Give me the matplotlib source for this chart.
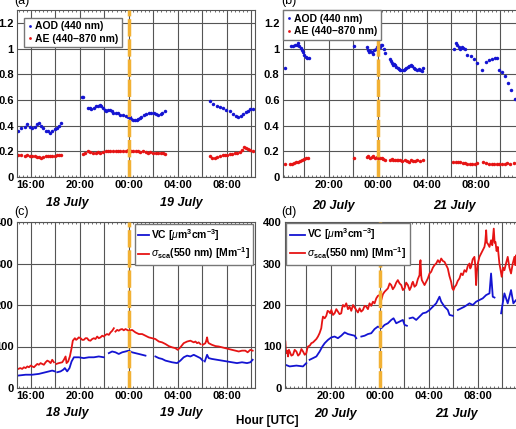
import numpy as np
import matplotlib
matplotlib.use("Agg")
import matplotlib.pyplot as plt
from matplotlib.ticker import FixedLocator, MultipleLocator, FuncFormatter

plt.rcParams['font.family'] = ['Liberation Sans', 'DejaVu Sans']
plt.rcParams['mathtext.fontset'] = 'custom'
plt.rcParams['mathtext.rm'] = 'Liberation Sans:bold'
plt.rcParams['mathtext.it'] = 'Liberation Sans:italic'
plt.rcParams['mathtext.bf'] = 'Liberation Sans:bold'

# tid i timer relativt til midnatt (00:00) mellom de to dagene
# (a) AOD / AE, 18-19 juli
a_aod_t = [-9.03, -8.76, -8.49, -8.30, -8.08, -7.86, -7.67, -7.48, -7.32, -7.16, -6.99, -6.78, -6.59, -6.45,
           -6.23, -6.04, -5.85, -5.69, -5.55,
           -3.86, -3.73,
           -3.32, -3.18, -3.05, -2.86, -2.64, -2.50, -2.37, -2.23, -2.10, -1.96, -1.82, -1.69, -1.55, -1.41,
           -1.28, -1.06, -0.87, -0.68, -0.46, -0.24, -0.05, 0.08, 0.22, 0.35, 0.49, 0.63, 0.76, 0.90, 1.03,
           1.22, 1.44, 1.66, 1.85, 2.04, 2.26, 2.42, 2.59, 2.75, 2.94,
           6.61, 6.88, 7.16, 7.43, 7.70, 7.97, 8.24, 8.52, 8.73, 8.93, 9.12, 9.33, 9.55, 9.74, 9.93, 10.15]
a_aod_v = [0.36, 0.38, 0.39, 0.41, 0.39, 0.38, 0.39, 0.41, 0.42, 0.40, 0.38, 0.36, 0.355, 0.345,
           0.36, 0.375, 0.385, 0.40, 0.42,
           0.625, 0.62,
           0.54, 0.535, 0.53, 0.54, 0.55, 0.555, 0.56, 0.55, 0.54, 0.525, 0.51, 0.52, 0.52, 0.51,
           0.50, 0.50, 0.495, 0.485, 0.48, 0.475, 0.47, 0.465, 0.455, 0.445, 0.44, 0.445, 0.45, 0.46, 0.47,
           0.48, 0.49, 0.50, 0.50, 0.495, 0.49, 0.48, 0.49, 0.50, 0.51,
           0.59, 0.57, 0.555, 0.545, 0.535, 0.52, 0.51, 0.49, 0.475, 0.47, 0.475, 0.49, 0.505, 0.515, 0.53, 0.53]

a_ae_t = [-9.03, -8.76, -8.49, -8.30, -8.08, -7.86, -7.67, -7.48, -7.32, -7.16, -6.99, -6.78, -6.59, -6.45,
          -6.23, -6.04, -5.85, -5.69, -5.55,
          -3.73, -3.59, -3.32, -3.13, -2.91, -2.69, -2.50, -2.31, -2.10, -1.88, -1.69, -1.50, -1.28, -1.06,
          -0.87, -0.68, -0.46, -0.24, -0.05, 0.14, 0.35, 0.57, 0.76, 0.95, 1.17, 1.39, 1.58, 1.77, 1.99,
          2.20, 2.39, 2.59, 2.80, 2.94,
          6.61, 6.83, 7.02, 7.21, 7.43, 7.65, 7.84, 8.03, 8.24, 8.46, 8.65, 8.84, 9.06, 9.22, 9.39, 9.55,
          9.74, 9.93, 10.15]
a_ae_v = [0.17, 0.175, 0.165, 0.17, 0.16, 0.165, 0.16, 0.155, 0.155, 0.15, 0.155, 0.16, 0.16, 0.16,
          0.165, 0.165, 0.17, 0.17, 0.175,
          0.18, 0.19, 0.20, 0.195, 0.19, 0.19, 0.195, 0.19, 0.195, 0.20, 0.20, 0.20, 0.205, 0.20,
          0.205, 0.20, 0.205, 0.20, 0.21, 0.20, 0.205, 0.20, 0.20, 0.195, 0.20, 0.195, 0.19, 0.195, 0.19,
          0.19, 0.185, 0.19, 0.185, 0.18,
          0.16, 0.15, 0.145, 0.155, 0.16, 0.17, 0.175, 0.175, 0.18, 0.18, 0.185, 0.19, 0.195, 0.21, 0.23, 0.225,
          0.215, 0.21, 0.205]

# (b) AOD / AE, 20-21 juli
b_aod_t = [-7.56,
           -7.07, -6.88, -6.75, -6.61, -6.48, -6.39, -6.29, -6.20, -6.10, -5.99, -5.88, -5.77, -5.63,
           -1.90,
           -0.90, -0.79, -0.71, -0.60, -0.49, -0.38, -0.27, -0.16, -0.05, 0.05, 0.16, 0.27, 0.38, 0.49, 0.60,
           1.01, 1.09, 1.17, 1.25, 1.33, 1.41, 1.52, 1.63, 1.74, 1.85, 1.99, 2.12, 2.23, 2.34, 2.45, 2.59,
           2.72, 2.83, 2.94, 3.07, 3.21, 3.35, 3.48, 3.62, 3.73,
           6.23, 6.39, 6.50, 6.61, 6.72, 6.86, 6.99, 7.13, 7.32, 7.59, 7.86, 8.08, 8.49, 8.84, 9.12, 9.33,
           9.55, 9.71, 9.93, 10.15, 10.39, 10.61, 10.88, 11.21]
b_aod_v = [0.845,
           1.02, 1.02, 1.025, 1.03, 1.045, 1.02, 1.005, 0.99, 0.975, 0.95, 0.935, 0.93, 0.925,
           1.02,
           1.01, 0.99, 0.97, 0.98, 0.975, 0.96, 0.985, 1.0, 1.01, 1.02, 1.015, 1.03, 1.025, 0.995, 0.965,
           0.92, 0.90, 0.885, 0.875, 0.88, 0.87, 0.86, 0.85, 0.84, 0.83, 0.83, 0.83, 0.84, 0.85, 0.855, 0.865,
           0.875, 0.865, 0.85, 0.84, 0.835, 0.84, 0.83, 0.825, 0.845,
           1.0, 1.045, 1.03, 1.015, 1.0, 1.01, 1.005, 1.0, 0.95, 0.94, 0.92, 0.885, 0.83, 0.895, 0.91, 0.92,
           0.93, 0.925, 0.835, 0.82, 0.785, 0.73, 0.68, 0.61]

b_ae_t = [-7.56, -7.16, -6.97, -6.80, -6.64, -6.48, -6.31, -6.15, -5.99, -5.82, -5.66,
          -1.90,
          -0.90, -0.76, -0.63, -0.49, -0.35, -0.22, -0.08, 0.05, 0.19, 0.33, 0.46, 0.60,
          1.01, 1.14, 1.28, 1.41, 1.55, 1.69, 1.82, 2.01, 2.20, 2.37, 2.53, 2.69, 2.86, 3.05, 3.24, 3.46, 3.67,
          6.18, 6.37, 6.56, 6.75, 6.94, 7.13, 7.32, 7.54, 7.73, 7.95, 8.14, 8.63, 8.84, 9.06, 9.31, 9.50,
          9.71, 9.93, 10.18, 10.39, 10.58, 10.80, 11.13]
b_ae_v = [0.10, 0.10, 0.105, 0.11, 0.115, 0.12, 0.125, 0.135, 0.14, 0.145, 0.15,
          0.15,
          0.155, 0.16, 0.15, 0.155, 0.16, 0.15, 0.155, 0.15, 0.145, 0.15, 0.14, 0.135,
          0.13, 0.14, 0.135, 0.13, 0.135, 0.13, 0.13, 0.125, 0.13, 0.125, 0.12, 0.13, 0.125, 0.125, 0.13, 0.125, 0.13,
          0.115, 0.12, 0.115, 0.115, 0.11, 0.11, 0.105, 0.10, 0.10, 0.105, 0.11, 0.115, 0.11, 0.105, 0.10, 0.10,
          0.10, 0.105, 0.10, 0.105, 0.11, 0.10, 0.11]

nan = np.nan
# (c) VC og sigma_sca, 18-19 juli
c_sca_t = [-9.02, -8.86, -8.70, -8.56, -8.42, -8.28, -8.15, -8.01, -7.88, -7.74, -7.61, -7.47, -7.34,
           -7.20, -7.07, -6.93, -6.79, -6.65, -6.52, -6.38, -6.25, -6.11, -6.05,
           -5.92, -5.71, -5.43, -5.30, -5.16, -5.08, -4.95, -4.81, -4.67, -4.57, -4.40, -4.30, -4.21, -4.08,
           -3.94, -3.80, -3.67, -3.53, -3.40, -3.27, -3.13, -2.99, -2.85, -2.72, -2.58, -2.45, -2.31, -2.17,
           -2.04, -1.90, -1.77, -1.63, -1.49, -1.35, -1.22, -1.15, -1.09, -0.95, -0.82, -0.68, -0.54, -0.41,
           -0.27, -0.14, 0.0, 0.27, 0.54, 0.82, 1.09, 1.36, 1.63, 1.90, 2.17, 2.45, 2.72, 2.99, 3.26, 3.53,
           3.80, 3.99, 4.21, 4.48, 4.76, 5.03, 5.30, 5.44, 5.57, 5.70, 5.84, 5.95, 6.03, 6.25, 6.32, 6.39,
           6.45, 6.52, 6.79, 7.07, 7.34, 7.61, 7.88, 8.15, 8.42, 8.70, 8.97, 9.24, 9.51, 9.70, 9.92, 10.11]
c_sca_v = [46, 48, 46, 50, 48, 52, 50, 54, 52, 50, 54, 58, 56,
           60, 58, 56, 62, 66, 64, 60, 68, 62, nan,
           58, 60, 62, 68, 76, 60, 64, 76, 96, 114, 120, 116, 118, 122,
           120, 116, 116, 120, 120, 115, 114, 118, 120, 118, 124, 120, 122, 126,
           124, 128, 130, 128, 134, 138, 144, nan, 136, 140, 138, 141, 142, 139,
           142, 140, 138, 140, 134, 130, 130, 126, 122, 120, 118, 112, 110, 106, 101, 98,
           96, 92, 98, 108, 112, 114, 110, 112, 108, 110, 106, nan, 104, 108, 114, 122,
           112, 108, 104, 101, 100, 98, 96, 94, 92, 90, 88, 90, 90, 86, 92, 90]

c_vc_t = [-9.02, -8.42, -7.88, -7.34, -6.79, -6.25, -6.03, -5.95, -5.84, -5.57, -5.35, -5.22, -5.03, -4.84,
          -4.67, -4.48, -4.08, -3.67, -3.26, -2.85, -2.45, -2.04, -1.85, -1.63, -1.36, -1.09, -0.82, -0.54,
          -0.27, 0.0, 0.27, 0.54, 0.82, 1.09, 1.36, 1.80, 2.17, 2.45, 2.72, 2.99, 3.26, 3.53, 3.94, 4.21,
          4.48, 4.76, 5.03, 5.30, 5.57, 5.84, 6.03, 6.10, 6.20, 6.39, 6.52, 6.79, 7.20, 7.61, 8.02, 8.42,
          8.83, 9.24, 9.65, 9.92, 10.11]
c_vc_v = [30, 32, 32, 34, 38, 42, 40, nan, 38, 40, 44, 48, 40, 48,
          64, 74, 74, 72, 74, 74, 76, 74, nan, 84, 88, 86, 82, 86,
          88, 90, 86, 84, 82, 80, 78, nan, 76, 72, 70, 66, 64, 62, 60, 66,
          74, 78, 76, 80, 76, 72, 66, nan, 64, 80, 72, 70, 68, 66, 64, 62,
          60, 62, 60, 62, 68]

# (d) VC og sigma_sca, 20-21 juli
d_sca_t = [-7.69, -7.65, -7.61, -7.54, -7.47, -7.40, -7.34, -7.20, -7.07, -6.93, -6.79, -6.65, -6.52, -6.38,
           -6.25, -6.11, -5.98, -5.91, -5.84, -5.70, -5.57, -5.43, -5.30, -5.16, -5.03, -4.90, -4.76, -4.69,
           -4.62, -4.48, -4.35, -4.24, -4.13, -4.03, -3.94, -3.80, -3.67, -3.53, -3.40, -3.27, -3.13, -3.06,
           -2.99, -2.85, -2.72, -2.58, -2.45, -2.31, -2.17, -2.04, -1.90, -1.77, -1.63, -1.50, -1.36, -1.22,
           -1.09, -0.95, -0.82, -0.68, -0.54, -0.41, -0.27, -0.14, 0.0, 0.07, 0.14, 0.27, 0.41, 0.55, 0.68,
           0.82, 0.95, 1.08, 1.22, 1.36, 1.49, 1.63, 1.77, 1.90, 2.04, 2.17, 2.31, 2.45, 2.58, 2.65, 2.72,
           2.85, 2.99, 3.12, 3.26, 3.30, 3.34, 3.40, 3.45, 3.56, 3.67, 3.80, 3.94, 4.08, 4.21, 4.35, 4.48,
           4.62, 4.76, 4.90, 5.03, 5.17, 5.30, 5.43, 5.57, 5.70, 5.84, 5.94, 6.03, 6.14, 6.25, 6.38, 6.52,
           6.65, 6.79, 6.93, 7.07, 7.20, 7.34, 7.40, 7.47, 7.60, 7.74, 7.81, 7.88, 7.95, 8.02, 8.15, 8.29,
           8.42, 8.56, 8.63, 8.70, 8.76, 8.83, 8.97, 9.10, 9.20, 9.32, 9.39, 9.46, 9.55, 9.65, 9.72, 9.78,
           9.88, 9.97, 10.08, 10.19, 10.32, 10.46, 10.60, 10.73, 10.87, 11.01, 11.08, 11.14, 11.35, 11.6]
d_sca_v = [112, 92, 84, 90, 76, 92, 88, 78, 80, 92, 88, 78, 82, 94,
           88, 80, 84, 94, 100, 102, 108, 110, 114, 118, 124, 132, 144, 160,
           172, 168, 174, 186, 184, 180, 188, 176, 180, 190, 184, 178, 180, 192,
           200, 196, 204, 190, 196, 186, 200, 194, 188, 182, 192, 184, 188, 198,
           196, 190, 204, 198, 208, 204, 216, 222, 224, 214, 212, 226, 232, 236, 240,
           252, 248, 238, 244, 254, 260, 252, 248, 236, 240, 254, 248, 236, 244, 252, 256,
           244, 248, 262, 272, 300, 308, 270, 260, 254, 248, 256, 264, 276, 280, 290, 296,
           300, 308, 302, 312, 306, 304, 296, 288, 270, 256, 240, 236, 244, 248, 258, 264,
           276, 272, 284, 280, 294, 300, 288, 292, 310, 316, 296, 248, 282, 300, 316, 324,
           332, 340, 352, 380, 350, 348, 340, 356, 344, 384, 350, 352, 330, 340, 318, 300,
           284, 268, 290, 284, 300, 316, 290, 276, 300, 316, 296, 320, 305, 300]

d_vc_t = [-7.69, -7.34, -6.79, -6.25, -5.98, -5.85, -5.71, -5.43, -5.16, -4.89, -4.67, -4.48, -4.21, -3.94,
          -3.67, -3.40, -3.13, -2.85, -2.58, -2.31, -2.04, -1.90, -1.70, -1.49, -1.22, -0.95, -0.68, -0.41,
          -0.14, 0.14, 0.41, 0.68, 0.95, 1.14, 1.36, 1.63, 1.90, 2.04, 2.23, 2.35, 2.45, 2.72, 2.99, 3.26,
          3.53, 3.80, 4.08, 4.35, 4.62, 4.89, 5.03, 5.30, 5.57, 5.71, 5.98, 6.20, 6.39, 6.66, 6.93, 7.34,
          7.61, 7.88, 8.15, 8.42, 8.70, 8.97, 9.10, 9.24, 9.38, 9.65, 9.92, 10.05, 10.19, 10.46, 10.73,
          10.92, 11.14, 11.6]
d_vc_v = [56, 52, 54, 52, 60, nan, 68, 72, 76, 88, 100, 108, 116, 122,
          124, 120, 126, 134, 130, 128, 126, 120, nan, 124, 126, 130, 132, 142,
          148, 144, 152, 156, 164, 168, 156, 160, 164, 152, 150, nan, 168, 170, 164, 172,
          180, 182, 188, 196, 204, 220, 208, 196, 188, 176, 174, nan, 188, 192, 196, 204,
          200, 208, 212, 216, 224, 228, 276, 220, 218, nan, 180, 204, 228, 204, 236,
          204, 212, 200]

blaa = '#1414d2'
roed = '#e61414'
oransje = '#f2b134'
W, H = 516, 429

fig = plt.figure(figsize=(W / 100, H / 100), dpi=100)


def akse(l, t, r, b):
    return fig.add_axes([l / W, 1 - b / H, (r - l) / W, (b - t) / H])


def tidslabel(x, pos):
    h = int(round(x)) % 24
    if h % 4 != 0:
        return ""
    return f"{h:02d}:00"


def pynt(ax, xlim, ylim, yticks, ylabels):
    ax.set_xlim(*xlim)
    ax.set_ylim(*ylim)
    ax.xaxis.set_major_locator(MultipleLocator(2))
    ax.xaxis.set_minor_locator(MultipleLocator(1 / 3))
    ax.xaxis.set_major_formatter(FuncFormatter(tidslabel))
    ax.yaxis.set_major_locator(FixedLocator(yticks))
    ax.set_yticklabels(ylabels)
    ax.grid(True, color='#555555', linewidth=0.8)
    ax.set_axisbelow(True)
    ax.tick_params(which='both', direction='in', top=True, right=True, colors='#555555',
                   labelcolor='black', labelsize=8, pad=2.5)
    ax.tick_params(which='major', length=0)
    ax.tick_params(which='minor', length=1.5, width=0.6)
    for lab in ax.get_xticklabels() + ax.get_yticklabels():
        lab.set_fontweight('bold')
    for s in ax.spines.values():
        s.set_color('#555555')
        s.set_linewidth(0.8)
    ax.axvline(0, color=oransje, lw=2.5, dashes=(5, 0.8), zorder=3)


def datoer(ax, plass, tekster, dy):
    for x, t in zip(plass, tekster):
        ax.annotate(t, xy=(x, 0), xycoords=('data', 'axes fraction'), xytext=(0, dy),
                    textcoords='offset points', ha='center', va='center', fontsize=9,
                    fontweight='bold', fontstyle='italic', annotation_clip=False)


aod_ticks = [0, 0.2, 0.4, 0.6, 0.8, 1.0, 1.2]
aod_labels = ['0', '0.2', '0.4', '0.6', '0.8', '1', '1.2']
vc_ticks = [0, 100, 200, 300, 400]
vc_labels = ['0', '100', '200', '300', '400']
xlim_venstre = (-9.1, 10.3)
xlim_hoyre = (-7.72, 11.87)

leg_kw = dict(frameon=True, fancybox=False, edgecolor='#777777', framealpha=1,
              prop={'size': 7.5, 'weight': 'bold'}, borderpad=0.35, labelspacing=0.25)

# (a)
ax = akse(17.3, 10, 255, 177)
ax.plot(a_aod_t, a_aod_v, 'o', ms=2.5, mec='none', color=blaa, label='AOD (440 nm)', zorder=2)
ax.plot(a_ae_t, a_ae_v, 'o', ms=2.5, mec='none', color=roed, label='AE (440\u2013870 nm)', zorder=2)
pynt(ax, xlim_venstre, (0, 1.3), aod_ticks, aod_labels)
ax.legend(loc='upper left', bbox_to_anchor=(0.03, 0.955), borderaxespad=0, handlelength=0.4,
          handletextpad=0.3, markerscale=0.8, **leg_kw).set_zorder(5)
datoer(ax, [-5.0, 4.25], ['18 July', '19 July'], -19)

# (b)
ax = akse(283, 10, 523, 177)
ax.plot(b_aod_t, b_aod_v, 'o', ms=2.5, mec='none', color=blaa, label='AOD (440 nm)', zorder=2)
ax.plot(b_ae_t, b_ae_v, 'o', ms=2.5, mec='none', color=roed, label='AE (440\u2013870 nm)', zorder=2)
pynt(ax, xlim_hoyre, (0, 1.3), aod_ticks, aod_labels)
ax.legend(loc='upper left', borderaxespad=0, handlelength=0.4,
          handletextpad=0.3, markerscale=0.8, **leg_kw).set_zorder(5)
datoer(ax, [-3.6, 6.3], ['20 July', '21 July'], -21)

vc_lab = r'VC [$\mu$m$^{\mathbf{3}}$cm$^{\mathbf{-3}}$]'
sca_lab = r'$\sigma_{\mathbf{sca}}$(550 nm) [Mm$^{\mathbf{-1}}$]'

# (c)
ax = akse(17.3, 222, 255, 388)
ax.plot(c_vc_t, c_vc_v, color=blaa, lw=1.3, label=vc_lab, zorder=2)
ax.plot(c_sca_t, c_sca_v, color=roed, lw=1.3, label=sca_lab, zorder=2)
pynt(ax, xlim_venstre, (0, 400), vc_ticks, vc_labels)
ax.legend(loc='upper right', borderaxespad=0.15, handlelength=1.0, handletextpad=0.2,
          **leg_kw).set_zorder(5)
datoer(ax, [-5.0, 4.25], ['18 July', '19 July'], -18)

# (d)
ax = akse(285, 222, 525, 388)
ax.plot(d_vc_t, d_vc_v, color=blaa, lw=1.3, label=vc_lab, zorder=2)
ax.plot(d_sca_t, d_sca_v, color=roed, lw=1.3, label=sca_lab, zorder=2)
pynt(ax, xlim_hoyre, (0, 400), vc_ticks, vc_labels)
ax.legend(loc='upper left', borderaxespad=0.1, handlelength=1.5, handletextpad=0.2,
          **leg_kw).set_zorder(5)
datoer(ax, [-3.6, 6.3], ['20 July', '21 July'], -19)

# paneletiketter og felles x-tekst
for t, x, y in [('(a)', 14, 1), ('(b)', 281, 1), ('(c)', 14, 212), ('(d)', 281, 212)]:
    fig.text(x / W, 1 - y / H, t, fontsize=9, ha='left', va='center')
fig.text(267 / W, 1 - 421 / H, 'Hour [UTC]', fontsize=8.5, fontweight='bold', ha='center', va='center')

fig.savefig('out.png', dpi=100)
